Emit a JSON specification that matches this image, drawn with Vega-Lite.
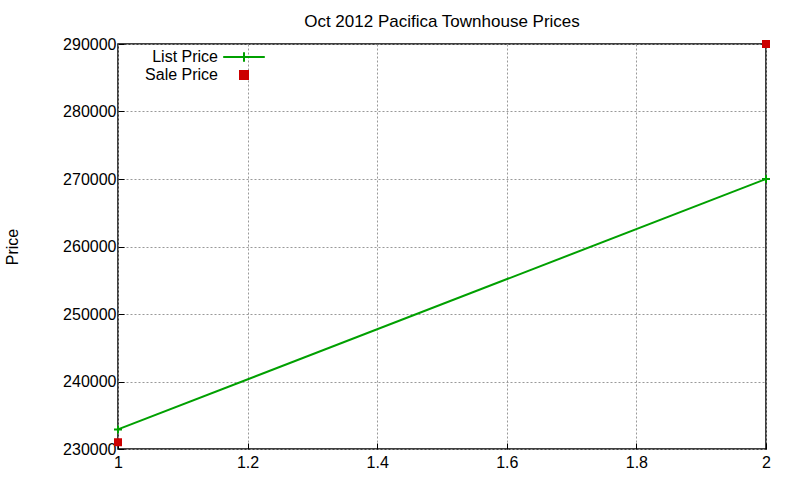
{
  "$schema": "https://vega.github.io/schema/vega-lite/v6.json",
  "width": 648,
  "height": 405,
  "autosize": {"type": "none"},
  "padding": {"left": 118, "top": 44, "right": 34, "bottom": 31},
  "background": "white",
  "title": {
    "text": "Oct 2012 Pacifica Townhouse Prices",
    "font": "Liberation Sans",
    "fontSize": 17,
    "fontWeight": "normal",
    "color": "black",
    "offset": 5
  },
  "config": {
    "view": {"stroke": "black", "strokeWidth": 1.5},
    "axis": {
      "labelFont": "Liberation Sans",
      "labelFontSize": 16,
      "labelColor": "black",
      "labelFlush": false,
      "titleFont": "Liberation Sans",
      "titleFontSize": 16,
      "titleFontWeight": "normal",
      "titleColor": "black",
      "domain": false,
      "tickColor": "black",
      "tickSize": -6,
      "tickWidth": 1,
      "grid": true,
      "gridColor": "#999999",
      "gridDash": [2, 2],
      "gridOpacity": 1,
      "gridWidth": 1
    }
  },
  "data": {
    "values": [
      {"x": 1, "price": 232900, "series": "List Price"},
      {"x": 2, "price": 270000, "series": "List Price"},
      {"x": 1, "price": 231000, "series": "Sale Price"},
      {"x": 2, "price": 290000, "series": "Sale Price"}
    ]
  },
  "encoding": {
    "x": {
      "field": "x",
      "type": "quantitative",
      "scale": {"domain": [1, 2], "nice": false, "zero": false},
      "axis": {"values": [1, 1.2, 1.4, 1.6, 1.8, 2], "format": "~g", "title": null, "labelPadding": 11}
    },
    "y": {
      "field": "price",
      "type": "quantitative",
      "scale": {"domain": [230000, 290000], "nice": false, "zero": false},
      "axis": {
        "values": [230000, 240000, 250000, 260000, 270000, 280000, 290000],
        "format": "d",
        "title": "Price",
        "titlePadding": 42,
        "labelPadding": 8
      }
    },
    "color": {
      "field": "series",
      "type": "nominal",
      "scale": {"domain": ["List Price", "Sale Price"], "range": ["#00a000", "#cc0000"]},
      "legend": {
        "title": null,
        "orient": "none",
        "legendX": 117,
        "legendY": 4,
        "labelFont": "Liberation Sans",
        "labelFontSize": 16,
        "labelColor": "black",
        "labelAlign": "right",
        "labelOffset": -35,
        "symbolSize": 256,
        "rowPadding": 0,
        "symbolStrokeWidth": 2,
        "encode": {
          "symbols": {
            "update": {
              "stroke": {"scale": "color", "field": "value"},
              "fill": {"scale": "color", "field": "value"},
              "opacity": {"value": 1}
            }
          }
        }
      }
    }
  },
  "layer": [
    {
      "transform": [{"filter": "datum.series === 'List Price'"}],
      "mark": {"type": "line", "strokeWidth": 2}
    },
    {
      "transform": [{"filter": "datum.series === 'List Price'"}],
      "mark": {"type": "point", "shape": "M-1,0H1M0,-1V1", "size": 64, "filled": false, "strokeWidth": 2, "opacity": 1}
    },
    {
      "transform": [{"filter": "datum.series === 'Sale Price'"}],
      "mark": {"type": "point", "filled": true, "size": 256, "opacity": 1, "strokeWidth": 0},
      "encoding": {
        "shape": {
          "field": "series",
          "type": "nominal",
          "scale": {
            "domain": ["List Price", "Sale Price"],
            "range": ["M-2.6,0H2.6M0,-0.6V0.6", "M-0.5,-0.5H0.5V0.5H-0.5Z"]
          }
        }
      }
    }
  ]
}
